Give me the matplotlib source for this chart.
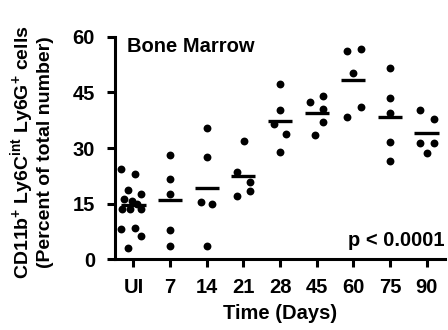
import matplotlib
matplotlib.use("Agg")
import matplotlib.pyplot as plt
import numpy as np

plt.rcParams['font.family'] = ['Liberation Sans', 'DejaVu Sans']
plt.rcParams['font.weight'] = 'bold'
plt.rcParams['mathtext.fontset'] = 'custom'
plt.rcParams['mathtext.rm'] = 'Liberation Sans:bold'
plt.rcParams['mathtext.it'] = 'Liberation Sans:bold'
plt.rcParams['mathtext.bf'] = 'Liberation Sans:bold'
plt.rcParams['mathtext.default'] = 'regular'

# Data (percent of total number)
groups = ["UI", "7", "14", "21", "28", "45", "60", "75", "90"]
values = [
    [24.3, 22.9, 18.6, 17.6, 16.1, 15.8, 15.0, 13.5, 13.5, 13.5, 8.1, 8.4, 6.3, 2.9],
    [28.1, 21.7, 17.7, 7.9, 3.6],
    [35.3, 27.5, 15.4, 15.0, 3.5],
    [32.0, 23.4, 20.8, 18.4, 17.0],
    [47.3, 40.2, 36.5, 33.8, 29.0],
    [44.1, 42.3, 40.6, 37.0, 33.4],
    [56.7, 56.1, 50.2, 41.1, 38.4],
    [51.5, 43.6, 39.5, 31.5, 26.5],
    [40.4, 37.9, 31.4, 31.4, 28.6],
]
means = [14.5, 15.9, 19.3, 22.4, 37.4, 39.5, 48.5, 38.5, 34.0]

# horizontal scatter of the dots within each column
jitter = [
    [-0.35, 0.05, -0.15, 0.2, -0.25, -0.05, 0.1, -0.3, -0.1, 0.2, -0.35, 0.05, 0.2, -0.15],
    [0, 0, 0, 0, 0],
    [0, 0, -0.15, 0.15, 0],
    [0.03, -0.17, 0.17, 0.17, -0.17],
    [0, 0, -0.17, 0.17, 0],
    [0.17, -0.17, 0.17, 0.17, -0.05],
    [0.21, -0.16, 0.0, 0.21, -0.16],
    [0, 0, 0, 0, 0],
    [-0.17, 0.19, -0.17, 0.19, 0.0],
]

FS = 14.5

fig = plt.figure(figsize=(4.48, 3.30), dpi=100)
ax = fig.add_axes([0.257, 0.215, 0.736, 0.673])

for i, (vals, jit) in enumerate(zip(values, jitter)):
    xs = i + np.array(jit)
    ax.scatter(xs, vals, s=32, color='black', zorder=3, linewidths=0)
    ax.plot([i - 0.33, i + 0.33], [means[i], means[i]], color='black', lw=2.4,
            solid_capstyle='butt', zorder=4)

ax.set_xlim(-0.5, 8.5)
ax.set_ylim(0, 60)
ax.set_yticks([0, 15, 30, 45, 60])
ax.set_xticks(range(len(groups)))
ax.set_xticklabels(groups)

for s in ['top', 'right']:
    ax.spines[s].set_visible(False)
for s in ['left', 'bottom']:
    ax.spines[s].set_linewidth(2.2)
ax.tick_params(axis='both', width=2.2, length=5.5, labelsize=FS)
ax.tick_params(axis='x', pad=8)
ax.tick_params(axis='y', pad=9)
for lbl in ax.get_xticklabels() + ax.get_yticklabels():
    lbl.set_fontweight('bold')

ax.set_xlabel("Time (Days)", fontsize=FS, fontweight='bold', labelpad=5)

# two-line y label, placed line by line
fig.text(22 / 448, 0.54, "CD11b$^{+}$ Ly6C$^{int}$ Ly6G$^{+}$ cells", rotation=90,
         fontsize=14, fontweight='bold', ha='center', va='center')
fig.text(45 / 448, 0.54, "(Percent of total number)", rotation=90,
         fontsize=14, fontweight='bold', ha='center', va='center')

ax.text(0.035, 1.0, "Bone Marrow", transform=ax.transAxes, fontsize=FS,
        fontweight='bold', ha='left', va='top')
ax.text(1.0, 0.04, "p < 0.0001", transform=ax.transAxes, fontsize=FS,
        fontweight='bold', ha='right', va='bottom')

fig.savefig("out.png", dpi=100)
